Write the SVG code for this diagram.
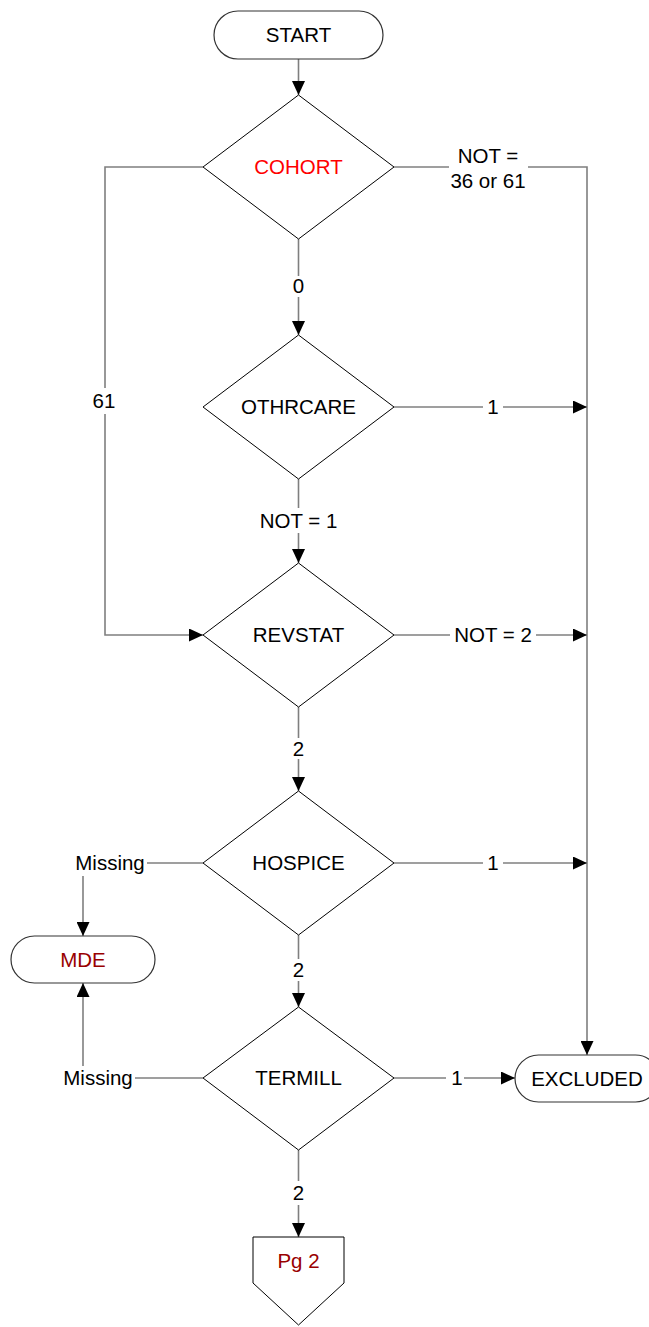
<svg xmlns="http://www.w3.org/2000/svg" width="649" height="1327" viewBox="0 0 649 1327">
<style>
.bg{fill:#fff}
.node{fill:#fff;stroke:#000;stroke-width:1}
.term{fill:#fff;stroke:#333;stroke-width:1.2}
.t{font-family:"Liberation Sans",Arial,sans-serif;font-size:20.5px;fill:#000;text-anchor:middle}
.red{fill:#ff0000}
.dred{fill:#990000}
.c{fill:none;stroke:#7f7f7f;stroke-width:1.6}
.ca{fill:none;stroke:#7f7f7f;stroke-width:1.6;marker-end:url(#arr)}
</style>
<defs>
<marker id="arr" viewBox="0 0 14 13" refX="14" refY="6.5" markerWidth="14" markerHeight="13" orient="auto" markerUnits="userSpaceOnUse">
<path d="M0,0 L14,6.5 L0,13 Z" fill="#000"/>
</marker>
</defs>
<rect class="bg" x="0" y="0" width="649" height="1327"/>

<g id="connectors">
<!-- START -> COHORT -->
<path class="ca" d="M298.5,59 V95"/>
<!-- COHORT -> OTHRCARE (0) -->
<path class="c" d="M298.5,239 V276"/>
<path class="ca" d="M298.5,297 V335"/>
<text class="t" x="298.5" y="293">0</text>
<!-- COHORT right NOT = 36 or 61 -> EXCLUDED -->
<path class="c" d="M394,167 H449"/>
<path class="ca" d="M528,167 H587 V1055"/>
<text class="t" x="488" y="163">NOT =</text>
<text class="t" x="488" y="188">36 or 61</text>
<!-- COHORT left 61 -> REVSTAT -->
<path class="c" d="M203,167 H105 V388"/>
<path class="ca" d="M105,414 V635 H203"/>
<text class="t" x="104" y="408">61</text>
<!-- OTHRCARE right 1 -->
<path class="c" d="M394,407 H483"/>
<path class="ca" d="M503,407 H587"/>
<text class="t" x="493" y="414">1</text>
<!-- OTHRCARE -> REVSTAT NOT = 1 -->
<path class="c" d="M298.5,479 V508"/>
<path class="ca" d="M298.5,533 V563"/>
<text class="t" x="298.5" y="528">NOT = 1</text>
<!-- REVSTAT right NOT = 2 -->
<path class="c" d="M394,635 H450"/>
<path class="ca" d="M536,635 H587"/>
<text class="t" x="493" y="642">NOT = 2</text>
<!-- REVSTAT -> HOSPICE 2 -->
<path class="c" d="M298.5,707 V738"/>
<path class="ca" d="M298.5,759 V791"/>
<text class="t" x="298.5" y="756">2</text>
<!-- HOSPICE right 1 -->
<path class="c" d="M394,863 H483"/>
<path class="ca" d="M503,863 H587"/>
<text class="t" x="493" y="870">1</text>
<!-- HOSPICE left Missing -> MDE -->
<path class="c" d="M203,863 H147"/>
<text class="t" x="110" y="870">Missing</text>
<path class="ca" d="M83,876 V936"/>
<!-- HOSPICE -> TERMILL 2 -->
<path class="c" d="M298.5,935 V959"/>
<path class="ca" d="M298.5,981 V1007"/>
<text class="t" x="298.5" y="977">2</text>
<!-- TERMILL left Missing -> MDE -->
<path class="c" d="M203,1078 H135"/>
<text class="t" x="98" y="1085">Missing</text>
<path class="ca" d="M83,1066 V983"/>
<!-- TERMILL right 1 -> EXCLUDED -->
<path class="c" d="M394,1078 H446"/>
<path class="ca" d="M464,1078 H515"/>
<text class="t" x="457" y="1085">1</text>
<!-- TERMILL -> Pg 2 -->
<path class="c" d="M298.5,1150 V1181"/>
<path class="ca" d="M298.5,1205 V1237"/>
<text class="t" x="298.5" y="1200">2</text>
</g>

<g id="start">
<rect class="term" x="214" y="11" width="169" height="48" rx="24" ry="24"/>
<text class="t" x="298.5" y="42">START</text>
</g>
<g id="cohort">
<polygon class="node" points="298.5,95 394,167 298.5,239 203,167"/>
<text class="t red" x="298.5" y="174">COHORT</text>
</g>
<g id="othrcare">
<polygon class="node" points="298.5,335 394,407 298.5,479 203,407"/>
<text class="t" x="298.5" y="414">OTHRCARE</text>
</g>
<g id="revstat">
<polygon class="node" points="298.5,563 394,635 298.5,707 203,635"/>
<text class="t" x="298.5" y="642">REVSTAT</text>
</g>
<g id="hospice">
<polygon class="node" points="298.5,791 394,863 298.5,935 203,863"/>
<text class="t" x="298.5" y="870">HOSPICE</text>
</g>
<g id="termill">
<polygon class="node" points="298.5,1007 394,1078 298.5,1150 203,1078"/>
<text class="t" x="298.5" y="1085">TERMILL</text>
</g>
<g id="mde">
<rect class="term" x="11" y="936" width="144" height="47" rx="23.5" ry="23.5"/>
<text class="t dred" x="83" y="967">MDE</text>
</g>
<g id="excluded">
<rect class="term" x="515" y="1055" width="144" height="47" rx="23.5" ry="23.5"/>
<text class="t" x="587" y="1086">EXCLUDED</text>
</g>
<g id="pg2">
<polygon class="node" points="253,1237 344,1237 344,1283 298.5,1325 253,1283"/>
<text class="t dred" x="298.5" y="1268">Pg 2</text>
</g>
</svg>
